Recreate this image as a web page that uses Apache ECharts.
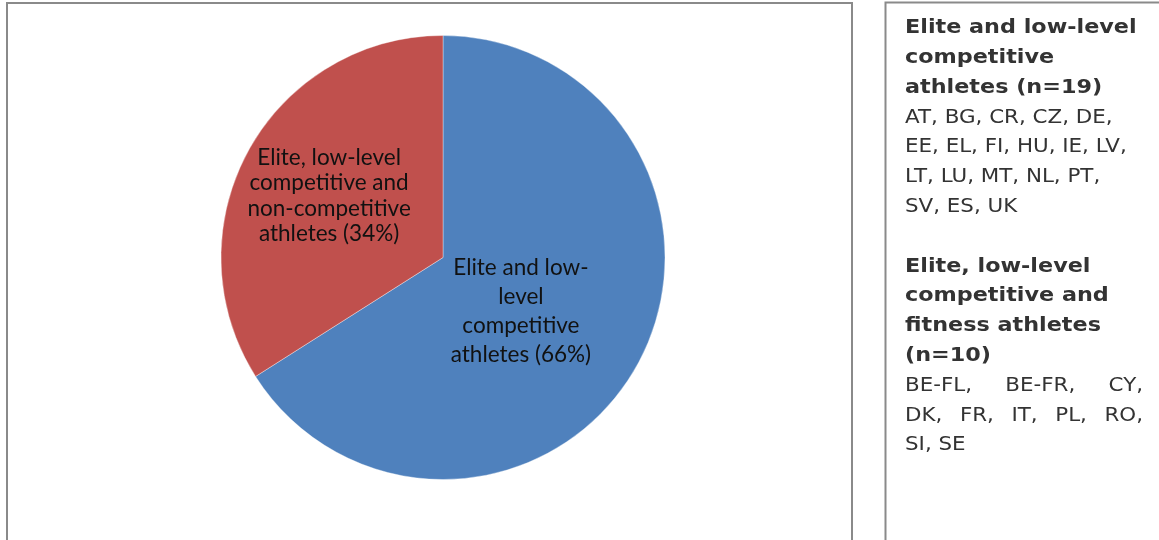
<!DOCTYPE html>
<html>
<head>
<meta charset="utf-8">
<script src="https://cdn.jsdelivr.net/npm/echarts@6/dist/echarts.min.js"></script>
<style>
html,body{margin:0;padding:0;background:#fff;}
#c{width:1159px;height:540px;}
</style>
</head>
<body>
<div id="c"></div>
<script>
// ---- data ----
const categories = ['Elite and low-level competitive athletes', 'Elite, low-level competitive and non-competitive athletes'];
const values = [66, 34];
const sliceLabels = ['Elite and low-\nlevel\ncompetitive\nathletes (66%)', 'Elite, low-level\ncompetitive and\nnon-competitive\nathletes (34%)'];
const colors = ['#4F81BD', '#C0504D'];

const group1Title = ['Elite and low-level', 'competitive', 'athletes (n=19)'];
const group1Countries = ['AT, BG, CR, CZ, DE,', 'EE, EL, FI, HU, IE, LV,', 'LT, LU, MT, NL, PT,', 'SV, ES, UK'];
const group2Title = ['Elite, low-level', 'competitive and', 'fitness athletes', '(n=10)'];
const group2Countries = ['BE-FL, BE-FR, CY,', 'DK, FR, IT, PL, RO,', 'SI, SE'];
const group2Justified = [true, true, false];

const chart = echarts.init(document.getElementById('c'));

const PANEL_FONT = 'DejaVu Sans';
const PANEL_SIZE = 20;
const SCALE_REG = 1.07, SCALE_BOLD = 1.115;
const LINE_H = 29.8;
const TX = 905, TR = 1143, TY0 = 28;
const cv = document.createElement('canvas').getContext('2d');
function measure(t, bold) {
  cv.font = (bold ? 'bold ' : 'normal ') + PANEL_SIZE + 'px "' + PANEL_FONT + '"';
  return cv.measureText(t).width * (bold ? SCALE_BOLD : SCALE_REG);
}

const graphics = [
  {type: 'rect', shape: {x: 7, y: 3, width: 845, height: 600}, style: {fill: 'none', stroke: '#8a8a8a', lineWidth: 2}, silent: true, z: -1},
  {type: 'rect', shape: {x: 885.5, y: 2.5, width: 400, height: 600}, style: {fill: 'none', stroke: '#8a8a8a', lineWidth: 2}, silent: true, z: -1}
];

let line = 0;
function addLine(text, bold, justify) {
  const y = TY0 + line * LINE_H;
  const sx = bold ? SCALE_BOLD : SCALE_REG;
  const st = {fill: '#333333', fontFamily: PANEL_FONT, fontSize: PANEL_SIZE, fontWeight: bold ? 'bold' : 'normal', verticalAlign: 'middle', align: 'left'};
  if (justify) {
    const words = text.split(' ');
    const total = words.reduce((s, w) => s + measure(w, bold), 0);
    const gap = (TR - TX - total) / (words.length - 1);
    let x = TX;
    words.forEach(w => {
      graphics.push({type: 'text', x: x, y: y, scaleX: sx, style: Object.assign({text: w}, st), silent: true});
      x += measure(w, bold) + gap;
    });
  } else {
    graphics.push({type: 'text', x: TX, y: y, scaleX: sx, style: Object.assign({text: text}, st), silent: true});
  }
  line++;
}
group1Title.forEach(t => addLine(t, true, false));
group1Countries.forEach(t => addLine(t, false, false));
line++;
group2Title.forEach(t => addLine(t, true, false));
group2Countries.forEach((t, i) => addLine(t, false, group2Justified[i]));

const labelShift = [[-22, -1], [-14, -7]];
const labelLineH = [29, 25.5];

chart.setOption({
  animation: false,
  backgroundColor: '#ffffff',
  color: colors,
  graphic: graphics,
  series: [{
    type: 'pie',
    center: [443, 257.5],
    radius: 222,
    startAngle: 90,
    clockwise: true,
    data: categories.map((c, i) => ({name: c, value: values[i], label: {lineHeight: labelLineH[i]}})),
    itemStyle: {borderColor: 'rgba(255,255,255,0.6)', borderWidth: 0.6},
    label: {
      show: true,
      position: 'inside',
      formatter: p => sliceLabels[p.dataIndex],
      fontFamily: 'Lato',
      fontSize: 22.5,
      color: '#111111',
      align: 'center'
    },
    labelLine: {show: false},
    labelLayout: p => ({dx: labelShift[p.dataIndex][0], dy: labelShift[p.dataIndex][1]}),
    emphasis: {disabled: true}
  }]
});
</script>
</body>
</html>
